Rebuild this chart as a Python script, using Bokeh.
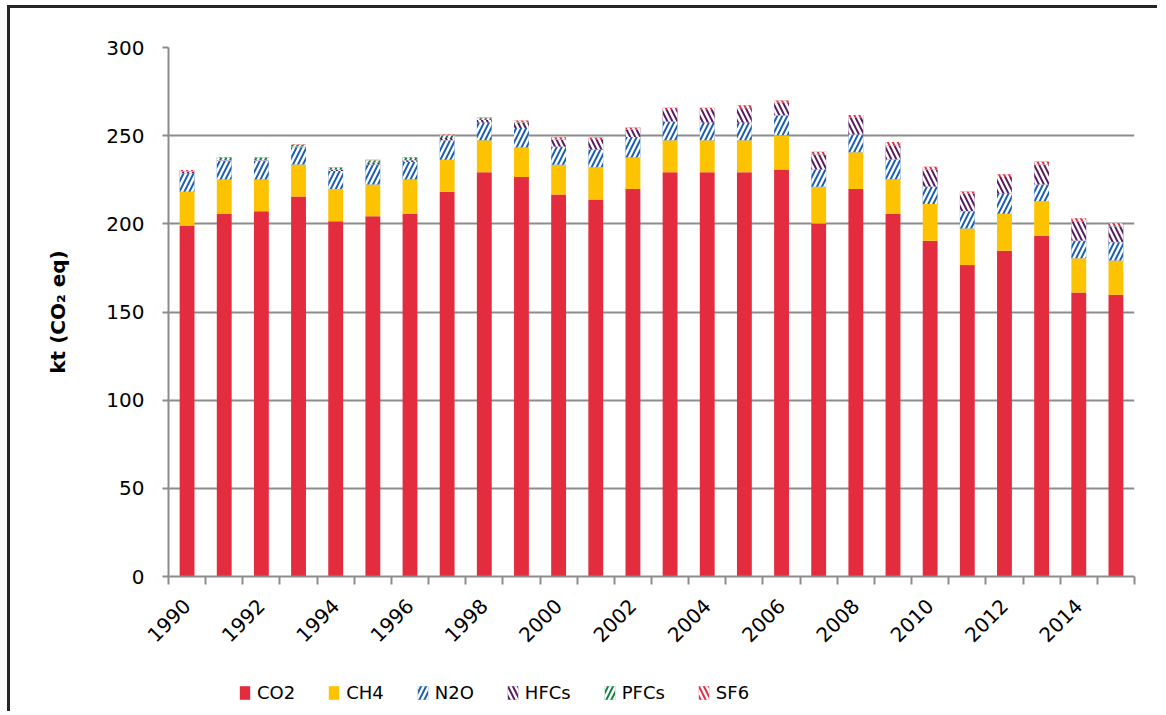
import math
from bokeh.plotting import figure
from bokeh.layouts import column
from bokeh.models import (Range1d, FixedTicker, Legend, LegendItem)
from bokeh.embed import file_html
from bokeh.resources import INLINE

years = list(range(1990, 2016))
co2 = [198.8, 205.7, 207.2, 215.5, 201.5, 204.3, 205.7, 218.2, 229.3, 226.5, 216.6, 213.8, 219.7,
       229.3, 229.3, 229.3, 230.8, 200.2, 219.7, 205.7, 190.4, 176.6, 184.7, 193.2, 161.0, 159.8]
ch4 = [19.4, 19.4, 17.9, 18.1, 18.3, 18.0, 19.4, 18.1, 18.1, 16.8, 16.9, 18.3, 17.9,
       18.1, 18.1, 18.1, 19.5, 20.8, 20.9, 19.4, 20.8, 20.8, 21.0, 19.6, 19.5, 19.4]
n2o = [10.3, 10.8, 10.8, 9.9, 10.1, 11.3, 9.9, 11.1, 9.9, 11.1, 10.2, 9.9, 11.6,
       10.5, 9.9, 9.9, 11.1, 9.8, 10.1, 11.4, 9.8, 9.8, 11.3, 9.5, 9.9, 10.4]
hfcs = [1.2, 0.3, 0.3, 0.2, 0.8, 1.0, 1.0, 1.3, 1.6, 2.9, 4.0, 5.5, 4.0,
        6.6, 7.2, 8.2, 7.2, 8.5, 9.4, 8.1, 9.8, 9.7, 9.5, 11.2, 11.1, 9.1]
pfcs = [0.3, 1.2, 1.3, 1.1, 1.1, 1.5, 1.4, 1.6, 1.0, 0.3, 0.2, 0.1, 0.1,
        0.1, 0.1, 0.1, 0.1, 0.1, 0.1, 0.1, 0.1, 0.1, 0.1, 0.1, 0.1, 0.1]
sf6 = [0.5, 0.3, 0.3, 0.3, 0.3, 0.3, 0.3, 0.3, 0.4, 1.0, 1.2, 1.4, 1.4,
       1.3, 1.3, 1.6, 1.3, 1.5, 1.5, 1.7, 1.5, 1.4, 1.5, 1.7, 1.5, 1.5]

series_names = ["CO2", "CH4", "N2O", "HFCs", "PFCs", "SF6"]
series_vals = [co2, ch4, n2o, hfcs, pfcs, sf6]
colors = ["#e32d3f", "#fdc300", "#1b5eab", "#561c5e", "#138040", "#e32d3f"]
hatches = [" ", " ", "right_diagonal_line", "left_diagonal_line", "right_diagonal_line", "left_diagonal_line"]

FONT = "DejaVu Sans"
GRID = "#8c8c8c"
BORDER = "3px solid #262626"

xs = [i + 0.5 for i in range(len(years))]
data = {"x": xs}
for n, v in zip(series_names, series_vals):
    data[n] = v

p = figure(width=1150, height=660, output_backend="svg", toolbar_location=None,
           x_range=Range1d(0, len(years)), y_range=Range1d(0, 300),
           min_border_left=158, min_border_right=26, min_border_top=39, min_border_bottom=92)
p.outline_line_color = None
p.background_fill_color = "white"
p.border_fill_color = "white"
p.styles = {"border-top": BORDER, "border-left": BORDER}

solid = p.vbar_stack(series_names, x="x", width=0.4, source=data,
                     fill_color=colors, line_color=None)
hatch_layer = p.vbar_stack(series_names, x="x", width=0.4, source=data,
                           fill_alpha=0, line_color=None,
                           hatch_pattern=hatches, hatch_color="white",
                           hatch_scale=10, hatch_weight=2.5)

# y axis
p.yaxis.ticker = FixedTicker(ticks=[0, 50, 100, 150, 200, 250, 300])
p.yaxis.axis_line_color = GRID
p.yaxis.axis_line_width = 2
p.yaxis.major_tick_line_color = GRID
p.yaxis.major_tick_line_width = 2
p.yaxis.major_tick_in = 0
p.yaxis.major_tick_out = 6
p.yaxis.minor_tick_line_color = None
p.yaxis.major_label_text_font = FONT
p.yaxis.major_label_text_font_size = "20px"
p.yaxis.major_label_text_color = "black"
p.yaxis.major_label_standoff = 18
p.yaxis.axis_label = "kt (CO\u2082 eq)"
p.yaxis.axis_label_text_font = FONT
p.yaxis.axis_label_text_font_style = "bold"
p.yaxis.axis_label_text_font_size = "20px"
p.yaxis.axis_label_text_color = "black"
p.yaxis.axis_label_standoff = 33

# x axis: labels at every second year, ticks between categories
label_ticks = [xs[i] for i in range(0, len(years), 2)]
p.xaxis.ticker = FixedTicker(ticks=label_ticks, minor_ticks=list(range(len(years) + 1)))
p.xaxis.major_label_overrides = {xs[i]: str(years[i]) for i in range(0, len(years), 2)}
p.xaxis.major_tick_line_color = None
p.xaxis.minor_tick_line_color = GRID
p.xaxis.minor_tick_line_width = 2
p.xaxis.minor_tick_in = 0
p.xaxis.minor_tick_out = 8
p.xaxis.axis_line_color = GRID
p.xaxis.axis_line_width = 2
p.xaxis.major_label_orientation = math.pi / 4
p.xaxis.major_label_text_font = FONT
p.xaxis.major_label_text_font_size = "20px"
p.xaxis.major_label_text_color = "black"
p.xaxis.major_label_standoff = 18

p.xgrid.grid_line_color = None
p.ygrid.grid_line_color = GRID
p.ygrid.grid_line_width = 2

# legend strip (separate figure so the legend is not clipped)
lf = figure(width=1150, height=46, output_backend="svg", toolbar_location=None,
            x_range=Range1d(0, 1), y_range=Range1d(0, 1),
            x_axis_type=None, y_axis_type=None,
            min_border_left=0, min_border_right=0, min_border_top=0, min_border_bottom=0)
lf.outline_line_color = None
lf.xgrid.grid_line_color = None
lf.ygrid.grid_line_color = None
lf.border_fill_color = "white"
lf.styles = {"border-left": BORDER}

items = []
for n, c, h in zip(series_names, colors, hatches):
    # zero-height proxy bars: only used to draw the legend swatches
    r1 = lf.vbar(x=[0.5], top=[0], width=0.1, fill_color=c, line_color=None)
    r2 = lf.vbar(x=[0.5], top=[0], width=0.1, fill_alpha=0, line_color=None,
                 hatch_pattern=h, hatch_color="white", hatch_scale=10, hatch_weight=2.5)
    items.append(LegendItem(label=n, renderers=[r1, r2]))

legend = Legend(items=items, orientation="horizontal", location=(70, 8),
                label_text_font=FONT, label_text_font_size="18px", label_text_color="black",
                glyph_width=13, glyph_height=17, spacing=32, label_standoff=6,
                border_line_color=None, background_fill_alpha=0, margin=0, padding=4)
lf.add_layout(legend)

layout = column(p, lf, spacing=0)
layout.styles = {"margin-left": "7px", "margin-top": "5px"}
open("out.html", "w").write(file_html(layout, INLINE))
